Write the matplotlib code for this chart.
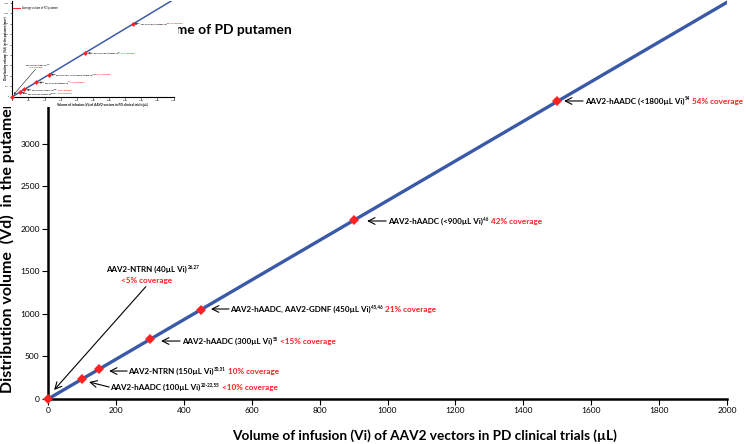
import matplotlib
matplotlib.use('Agg')
import matplotlib.pyplot as plt
from matplotlib.lines import Line2D

plt.rcParams['font.family'] = ['Lato', 'DejaVu Sans']

# Trial data: infusion volume (uL) vs distribution volume (mm3)
infusion_ul = [0, 100, 150, 300, 450, 900, 1500]
distribution_mm3 = [0, 233, 350, 700, 1050, 2100, 3500]

# Fitted line Vd vs Vi
fit_x = [0, 2000]
fit_y = [0, 4667]

trial_labels = ['AAV2-NTRN (40µL Vi)', 'AAV2-hAADC (100µL Vi)', 'AAV2-NTRN (150µL Vi)',
                'AAV2-hAADC (300µL Vi)', 'AAV2-hAADC, AAV2-GDNF (450µL Vi)',
                'AAV2-hAADC (<900µL Vi)', 'AAV2-hAADC (<1800µL Vi)']
trial_refs = ['26,27', '20-22,55', '30,31', '55', '45,46', '46', '54']
coverage = ['<5% coverage', '<10% coverage', '10% coverage', '<15% coverage',
            '21% coverage', '42% coverage', '54% coverage']

x_ticks = list(range(0, 2001, 200))
y_ticks = list(range(0, 4501, 500))

# label layout (data units): text anchor, arrow tail, arrow head
text_pos = [(291, 1494), (183, 106), (236, 294), (395, 647), (536, 1024), (1001, 2059), (1582, 3471)]
arrow_tail = [(288, 1321), (180, 141), (233, 329), (389, 682), (533, 1059), (996, 2094), (1576, 3506)]
arrow_head = [(18, 106), (121, 200), (180, 329), (333, 682), (480, 1059), (940, 2094), (1520, 3506)]
second_line_y = 1361

BLUE = '#3A5AA8'
RED = '#FF2020'


def draw_chart(ax, s, w, ytop, xlabel_size, xlabel_xy, ylabel_size, ylabel_xy, ylabel_loc,
               legend_size, legend_weight, legend_loc, legend_anchor):
    ax.plot(fit_x, fit_y, color=BLUE, lw=2.4 * w, zorder=2)
    ax.plot(infusion_ul, distribution_mm3, 'D', color=RED, ms=5.5 * w, mew=0,
            zorder=3, clip_on=False)

    ax.set_xlim(0, 2000)
    ax.set_ylim(0, ytop)
    ax.set_xticks(x_ticks)
    ax.set_yticks(y_ticks)
    ax.tick_params(labelsize=6 * s, length=4 * w, width=0.8 * w, pad=2 * s, colors='black')
    for side in ['top', 'right']:
        ax.spines[side].set_visible(False)
    for side in ['left', 'bottom']:
        ax.spines[side].set_linewidth(1.8 * w)

    ax.set_xlabel('Volume of infusion (Vi) of AAV2 vectors in PD clinical trials (µL)',
                  fontsize=xlabel_size, fontweight='bold', loc='left')
    ax.xaxis.set_label_coords(*xlabel_xy)
    ax.set_ylabel('Distribution volume  (Vd)  in the putamen (mm³)',
                  fontsize=ylabel_size, fontweight='bold', loc=ylabel_loc)
    ax.yaxis.set_label_coords(*ylabel_xy)

    fs = 5.75 * s
    red_fs = 5.9 * s
    sup_fs = 3.3 * s
    arrow = dict(arrowstyle='->', lw=0.8 * w, color='black', mutation_scale=12 * s,
                 shrinkA=0, shrinkB=0)
    for i in range(len(trial_labels)):
        ax.annotate('', xy=arrow_head[i], xytext=arrow_tail[i], arrowprops=arrow)
        x, y = text_pos[i]
        if i == 0:
            t = ax.text(x, y, trial_labels[i], fontsize=fs, fontweight='bold',
                        ha='center', va='baseline')
            ax.annotate(trial_refs[i], xy=(1, y), xycoords=(t, 'data'),
                        xytext=(0.3 * s, 2.5 * s), textcoords='offset points',
                        fontsize=sup_fs, fontweight='bold', ha='left', va='baseline')
            ax.text(x, second_line_y, coverage[i], fontsize=red_fs,
                    fontweight='bold', color=RED, ha='center', va='baseline')
        else:
            t = ax.text(x, y, trial_labels[i], fontsize=fs, fontweight='bold',
                        ha='left', va='baseline')
            sup = ax.annotate(trial_refs[i], xy=(1, y), xycoords=(t, 'data'),
                              xytext=(0.3 * s, 2.5 * s), textcoords='offset points',
                              fontsize=sup_fs, fontweight='bold', ha='left', va='baseline')
            ax.annotate(coverage[i], xy=(1, y), xycoords=(sup, 'data'),
                        xytext=(1.6 * s, 0), textcoords='offset points', fontsize=red_fs,
                        fontweight='bold', color=RED, ha='left', va='baseline')

    handle = Line2D([], [], color=RED, lw=1.5 * w)
    ax.legend([handle], ['Average volume of PD putamen'], loc=legend_loc,
              bbox_to_anchor=legend_anchor, frameon=False, borderpad=0,
              borderaxespad=0, handlelength=2.5,
              prop={'size': legend_size, 'weight': legend_weight})


fig = plt.figure(figsize=(7.46, 4.44), dpi=100)

ax = fig.add_axes([48 / 746, 45 / 444, 679 / 746, 399 / 444])
draw_chart(ax, 1.0, 1.0, 4694, 9.8, (0.271, -0.075), 11.5, (-0.0486, 0.015), 'bottom',
           10, 'bold', 'upper right', (0.359, 0.94))

# small copy of the chart in the upper left corner
bg = fig.add_axes([0, 1 - 107 / 444, 178 / 746, 107 / 444])
bg.set_xticks([])
bg.set_yticks([])
for sp in bg.spines.values():
    sp.set_visible(False)
bg.set_facecolor('white')

thumb = fig.add_axes([12.3 / 746, 1 - 96.7 / 444, 161.2 / 746, 95.7 / 444])
draw_chart(thumb, 0.26, 0.45, 4600, 2.3, (0.271, -0.066), 2.2, (-0.027, 0.51), 'center',
           1.9, 'normal', 'upper left', (0.004, 0.948))

fig.savefig('out.png', dpi=100)
